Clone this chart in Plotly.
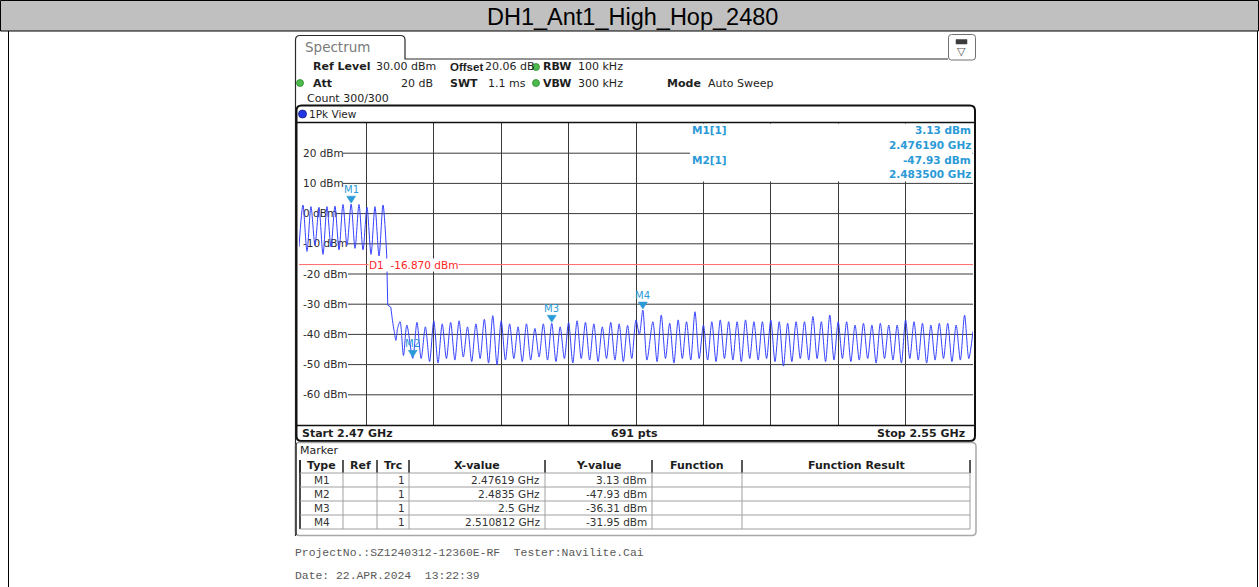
import plotly.graph_objects as go

W, H = 1259, 587

# ---------------------------------------------------------------- data
# 1Pk max-hold trace, hopping band 2470-2480 MHz (peak / trough vertices)
band_freq_ghz = [2.47000, 2.47047, 2.47095, 2.47142, 2.47190, 2.47237, 2.47285, 2.47332,
                 2.47380, 2.47427, 2.47475, 2.47522, 2.47570, 2.47619, 2.47665, 2.47712,
                 2.47760, 2.47807, 2.47855, 2.47902, 2.47950, 2.47997, 2.48041]
band_level_dbm = [-11.0, 2.85, -12.5, 2.3, -10.5, 2.1, -13.5, 2.3,
                  -11.0, 2.5, -12.0, 3.0, -10.5, 3.13, -11.5, 3.0,
                  -12.0, 2.1, -13.5, 2.3, -14.0, 2.85, -13.7]

# band edge roll-off
edge_freq_ghz = [2.48041, 2.48053, 2.48090]
edge_level_dbm = [-13.7, -30.3, -31.0]

# out-of-band residue up to the stop frequency
spur_freq_ghz = [
    2.4809, 2.4811, 2.4813, 2.4815, 2.4817, 2.4820, 2.4824, 2.4828, 2.4835,
    2.4840, 2.4845, 2.4850, 2.4855, 2.4860, 2.4865, 2.4870, 2.4875, 2.4880, 2.4885,
    2.4890, 2.4895, 2.4900, 2.4905, 2.4910, 2.4915, 2.4920, 2.4925, 2.4930, 2.4935,
    2.4940, 2.4945, 2.4950, 2.4955, 2.4960, 2.4965, 2.4970, 2.4975, 2.4980, 2.4985,
    2.4990, 2.4995, 2.5000, 2.5005, 2.5010, 2.5015, 2.5020, 2.5025, 2.5030, 2.5035,
    2.5040, 2.5045, 2.5050, 2.5055, 2.5060, 2.5065, 2.5070, 2.5075, 2.5080, 2.5085,
    2.5090, 2.5095, 2.5100, 2.5104, 2.510812, 2.5113,
    2.5120, 2.5125, 2.5130, 2.5135, 2.5140, 2.5145, 2.5150, 2.5155, 2.5160, 2.5165,
    2.5170, 2.5175, 2.5180, 2.5185, 2.5190, 2.5195, 2.5200, 2.5205, 2.5210, 2.5215,
    2.5220, 2.5225, 2.5230, 2.5235, 2.5240, 2.5245, 2.5250, 2.5255, 2.5260, 2.5265,
    2.5270, 2.5275, 2.5280, 2.5285, 2.5290, 2.5295, 2.5300, 2.5305, 2.5310, 2.5315,
    2.5320, 2.5325, 2.5330, 2.5335, 2.5340, 2.5345, 2.5350, 2.5355, 2.5360, 2.5365,
    2.5370, 2.5375, 2.5380, 2.5385, 2.5390, 2.5395, 2.5400, 2.5405, 2.5410, 2.5415,
    2.5420, 2.5425, 2.5430, 2.5435, 2.5440, 2.5445, 2.5450, 2.5455, 2.5460, 2.5465,
    2.5470, 2.5475, 2.5480, 2.5485, 2.5490, 2.5495, 2.5500]
spur_level_dbm = [
    -31.0, -35.5, -39.0, -42.0, -38.0, -35.8, -47.0, -36.9, -47.93,
    -36.0, -48.0, -37.5, -49.0, -35.5, -49.5, -36.5, -48.0, -36.0, -48.5,
    -35.5, -47.5, -37.5, -49.0, -36.5, -48.0, -35.0, -49.5, -33.8, -50.0,
    -35.5, -48.5, -36.5, -48.0, -37.5, -49.0, -36.5, -48.5, -38.0, -47.5,
    -36.5, -48.5, -36.31, -49.0, -37.5, -48.0, -36.0, -49.5, -35.5, -48.0,
    -36.0, -48.5, -36.5, -49.0, -37.5, -48.0, -36.0, -48.5, -36.5, -49.0,
    -37.0, -48.0, -35.2, -40.0, -31.95, -48.5,
    -35.8, -49.0, -33.6, -48.0, -36.3, -49.5, -35.2, -48.0, -35.8, -48.5,
    -32.5, -48.0, -36.9, -48.5, -35.8, -49.0, -35.2, -48.0, -35.8, -48.5,
    -35.8, -49.0, -35.2, -48.0, -35.8, -48.5, -35.8, -48.0, -35.2, -49.0,
    -35.8, -50.5, -36.3, -49.0, -35.8, -48.0, -35.8, -48.5, -34.1, -48.0,
    -35.8, -49.0, -33.6, -48.5, -35.8, -48.0, -35.8, -49.0, -36.9, -48.5,
    -36.3, -48.0, -36.9, -49.5, -36.3, -48.0, -36.9, -48.5, -36.9, -49.5,
    -35.2, -48.0, -35.8, -48.5, -36.3, -49.5, -36.9, -48.5, -36.3, -48.0,
    -36.3, -49.0, -36.9, -48.5, -33.6, -48.0, -39.0]

# markers
marker_names = ["M1", "M2", "M3", "M4"]
marker_freq_ghz = [2.47619, 2.4835, 2.5, 2.510812]
marker_level_dbm = [3.13, -47.93, -36.31, -31.95]
marker_trace = [1, 1, 1, 1]

# display line D1
display_line_dbm = -16.870

# axes
start_ghz, stop_ghz = 2.47, 2.55
ref_level_dbm, bottom_dbm = 30, -70
x_div_ghz = 0.008
y_tick_dbm = [20, 10, 0, -10, -20, -30, -40, -50, -60]
y_tick_text = ["20 dBm", "10 dBm", "0 dBm", "-10 dBm", "-20 dBm", "-30 dBm",
               "-40 dBm", "-50 dBm", "-60 dBm"]
sweep_points = 691

# ---------------------------------------------------------------- styling
TRACE_BLUE = "#3441ff"
MARKER_BLUE = "#2b9ad6"
GRID = "#3a3a3a"
INK = "#1e1e1e"
D1_LINE = "#ff6a6a"
D1_TEXT = "#ff2626"
UI = "DejaVu Sans"
MONO = "Liberation Mono"


def X(px):
    return px / W


def Y(py):
    return 1 - py / H


def P(px, py):
    return f"{X(px):.6f},{Y(py):.6f}"


annotations = []
shapes = []


def text(px, py, s, size=11, color=INK, anchor="left", bold=False, family=UI, bg=None):
    a = dict(x=X(px), y=Y(py), xref="paper", yref="paper",
             text=f"<b>{s}</b>" if bold else s, showarrow=False,
             xanchor=anchor, yanchor="middle", borderpad=0,
             font=dict(family=family, size=size, color=color))
    if bg:
        a["bgcolor"] = bg
    annotations.append(a)


def line(x0, y0, x1, y1, color=INK, width=1, layer="above"):
    shapes.append(dict(type="line", xref="paper", yref="paper",
                       x0=X(x0), y0=Y(y0), x1=X(x1), y1=Y(y1),
                       line=dict(color=color, width=width), layer=layer))


def rect(x0, y0, x1, y1, fill=None, color=INK, width=1, layer="above"):
    s = dict(type="rect", xref="paper", yref="paper",
             x0=X(x0), y0=Y(y0), x1=X(x1), y1=Y(y1), layer=layer,
             line=dict(color=color, width=width))
    if fill:
        s["fillcolor"] = fill
    if width == 0:
        s["line"] = dict(width=0)
    shapes.append(s)


def rounded(x0, y0, x1, y1, r, color=INK, width=1, fill=None, layer="above"):
    d = (f"M {P(x0 + r, y0)} L {P(x1 - r, y0)} Q {P(x1, y0)} {P(x1, y0 + r)} "
         f"L {P(x1, y1 - r)} Q {P(x1, y1)} {P(x1 - r, y1)} "
         f"L {P(x0 + r, y1)} Q {P(x0, y1)} {P(x0, y1 - r)} "
         f"L {P(x0, y0 + r)} Q {P(x0, y0)} {P(x0 + r, y0)} Z")
    s = dict(type="path", xref="paper", yref="paper", path=d, layer=layer,
             line=dict(color=color, width=width))
    if fill:
        s["fillcolor"] = fill
    shapes.append(s)


def dot(cx, cy, r, fill, edge):
    shapes.append(dict(type="circle", xref="paper", yref="paper",
                       x0=X(cx - r), y0=Y(cy + r), x1=X(cx + r), y1=Y(cy - r),
                       fillcolor=fill, line=dict(color=edge, width=0.8), layer="above"))


# plot area in page pixels
PL, PR, PT, PB = 299, 973, 123, 425

# ---------------------------------------------------------------- figure
fig = go.Figure()
for fx, ly, shp in [(band_freq_ghz, band_level_dbm, "spline"),
                    (edge_freq_ghz, edge_level_dbm, "linear"),
                    (spur_freq_ghz, spur_level_dbm, "spline")]:
    fig.add_trace(go.Scatter(x=fx, y=ly, mode="lines", hoverinfo="skip",
                             line=dict(color=TRACE_BLUE, width=1, shape=shp, smoothing=0.8),
                             showlegend=False))

# horizontal graticule, starting right of each level label
label_end_px = {20: 343, 10: 343, 0: 336, -10: 348, -20: 348, -30: 348,
                -40: 348, -50: 348, -60: 348}
for v in y_tick_dbm:
    shapes.append(dict(type="line", xref="paper", yref="y", x0=X(label_end_px[v]), x1=X(PR),
                       y0=v, y1=v, line=dict(color=GRID, width=1), layer="below"))

# display line D1
shapes.append(dict(type="line", xref="paper", yref="y", x0=X(PL), x1=X(PR),
                   y0=display_line_dbm, y1=display_line_dbm,
                   line=dict(color=D1_LINE, width=1), layer="above"))
annotations.append(dict(x=X(368), y=display_line_dbm, xref="paper", yref="y",
                        text=f"D1  {display_line_dbm:.3f} dBm", showarrow=False,
                        xanchor="left", yanchor="middle", bgcolor="white", borderpad=0,
                        font=dict(family=UI, size=10.5, color=D1_TEXT)))

# marker readout box (top right of the diagram)
rect(690, 123.6, 972.4, 181.5, fill="white", width=0)
text(691, 130, "M1[1]", size=10.5, color=MARKER_BLUE, bold=True)
text(972, 130, f"{marker_level_dbm[0]:.2f} dBm", size=10.5, color=MARKER_BLUE, bold=True, anchor="right")
text(972, 145, f"{marker_freq_ghz[0]:.6f} GHz", size=10.5, color=MARKER_BLUE, bold=True, anchor="right")
text(691, 160, "M2[1]", size=10.5, color=MARKER_BLUE, bold=True)
text(972, 160, f"{marker_level_dbm[1]:.2f} dBm", size=10.5, color=MARKER_BLUE, bold=True, anchor="right")
text(972, 174, f"{marker_freq_ghz[1]:.6f} GHz", size=10.5, color=MARKER_BLUE, bold=True, anchor="right")

# marker symbols on the trace
for name, f, lv in zip(marker_names, marker_freq_ghz, marker_level_dbm):
    shapes.append(dict(type="path", xref="x", yref="y", xsizemode="pixel", ysizemode="pixel",
                       xanchor=f, yanchor=lv, path="M -4.5,8 L 4.5,8 L 0,1 Z",
                       fillcolor=MARKER_BLUE, line=dict(color=MARKER_BLUE, width=0.5),
                       layer="above"))
    annotations.append(dict(x=f, y=lv, xref="x", yref="y", text=name, showarrow=False,
                            xanchor="center", yanchor="bottom", yshift=8, borderpad=0,
                            font=dict(family=UI, size=10, color=MARKER_BLUE)))

# ---- page header / title bar
rect(0.5, 0.5, 1258.5, 31, fill="#c0c0c0", color="#000000", width=1)
text(632, 17, "DH1_Ant1_High_Hop_2480", size=23.5, color="#000000",
     family="Liberation Sans", anchor="center")
line(8.5, 31, 8.5, 587, color="#000000", width=1)
line(1257.5, 31, 1257.5, 587, color="#000000", width=1)

# ---- instrument tab and setting lines
tab = (f"M {P(295.5, 59)} L {P(295.5, 40)} Q {P(295.5, 35.5)} {P(300, 35.5)} "
       f"L {P(400.5, 35.5)} Q {P(405, 35.5)} {P(405, 40)} L {P(405, 59)} L {P(948, 59)}")
shapes.append(dict(type="path", xref="paper", yref="paper", path=tab,
                   line=dict(color="#2a2a2a", width=1.2), layer="above"))
line(295.5, 59, 295.5, 536, color="#2a2a2a", width=1.2)
text(304, 47, "Spectrum", size=13.5, color="#7a7a7a")

rounded(948.5, 34.5, 975.5, 60, 3, color="#707070", width=1, fill="white")
rect(956, 39.5, 967, 44, fill="#3c3c3c", color="#3c3c3c", width=0.5)
text(961.5, 52, "▽", size=11, color="#505050", anchor="center")

text(312, 67, "Ref Level", bold=True)
text(375, 67, f"{ref_level_dbm:.2f} dBm")
text(449, 67, "Offset", bold=True, family="Liberation Sans", size=11.5)
text(484, 67, "20.06 dB")
dot(536, 67, 3.5, "#4cba4c", "#2e8a2e")
text(542, 67, "RBW", bold=True)
text(577, 67, "100 kHz")

dot(300, 83, 3.5, "#4cba4c", "#2e8a2e")
text(312, 83, "Att", bold=True)
text(434, 83, "20 dB", anchor="right")
text(449, 83, "SWT", bold=True)
text(527, 83, "1.1 ms", anchor="right")
dot(536, 83, 3.5, "#4cba4c", "#2e8a2e")
text(542, 83, "VBW", bold=True)
text(577, 83, "300 kHz")
text(666, 83, "Mode", bold=True)
text(707, 83, "Auto Sweep")
text(306, 98, "Count 300/300")

# ---- diagram frame
rounded(296.5, 105.5, 975, 441, 5, color="#111111", width=2)
line(296.5, 122.6, 975, 122.6, color="#111111", width=1.5)
line(296.5, 425.5, 975, 425.5, color="#111111", width=1.5)
dot(302.5, 114, 4, "#2336e6", "#101a80")
text(308, 114, "1Pk View", size=10.5)

text(301, 433, f"Start {start_ghz} GHz", bold=True)
text(634, 433, f"{sweep_points} pts", bold=True, anchor="center")
text(966, 433, f"Stop {stop_ghz} GHz", bold=True, anchor="right")

# ---- marker table
rounded(295.5, 442.5, 976, 535.5, 4, color="#a8a8a8", width=1.5)
line(296, 443, 296, 535, color="#2a2a2a", width=1.5)
text(299, 450, "Marker", size=11)

col_edges = [300, 343, 377, 409, 545, 652, 742, 970]
row_edges = [473, 487, 501, 515, 529]
headers = ["Type", "Ref", "Trc", "X-value", "Y-value", "Function", "Function Result"]
for xe in col_edges:
    line(xe, 460, xe, 473, color="#202020", width=1.5)
    line(xe, 473, xe, 529, color="#a0a0a0", width=1)
line(300, 460, 300, 529, color="#202020", width=1.5)
for ye in row_edges:
    line(300, ye, 970, ye, color="#a0a0a0", width=1)
for i, hname in enumerate(headers):
    text((col_edges[i] + col_edges[i + 1]) / 2, 466, hname, bold=True, anchor="center")

for i, (name, f, lv, tr) in enumerate(zip(marker_names, marker_freq_ghz, marker_level_dbm, marker_trace)):
    yc = (row_edges[i] + row_edges[i + 1]) / 2
    text(321.5, yc, name, size=10.5, anchor="center", color="#333333")
    text(406, yc, str(tr), size=10.5, anchor="right", color="#333333")
    text(541, yc, f"{f} GHz", size=10.5, anchor="right", color="#333333")
    text(648, yc, f"{lv:.2f} dBm", size=10.5, anchor="right", color="#333333")

# ---- footer
text(294, 553, "ProjectNo.:SZ1240312-12360E-RF  Tester:Navilite.Cai", size=11.4,
     color="#5a5a5a", family=MONO)
text(294, 576, "Date: 22.APR.2024  13:22:39", size=11.4, color="#5a5a5a", family=MONO)

fig.update_layout(
    width=W, height=H, autosize=False,
    margin=dict(l=0, r=0, t=0, b=0, pad=0),
    paper_bgcolor="white", plot_bgcolor="white", showlegend=False,
    xaxis=dict(domain=[X(PL), X(PR)], range=[start_ghz, stop_ghz], tick0=start_ghz,
               dtick=x_div_ghz, showgrid=True, gridcolor=GRID, gridwidth=1,
               showticklabels=False, ticks="", zeroline=False, showline=False,
               fixedrange=True),
    yaxis=dict(domain=[Y(PB), Y(PT)], range=[bottom_dbm, ref_level_dbm],
               tickvals=y_tick_dbm, ticktext=y_tick_text, ticklabelposition="inside",
               ticklabelstandoff=1, ticks="", showgrid=False, zeroline=False,
               showline=False, layer="below traces", fixedrange=True,
               tickfont=dict(family=UI, size=10.5, color="#2a2a2a")),
    shapes=shapes, annotations=annotations,
)

fig.write_html("out.html")
